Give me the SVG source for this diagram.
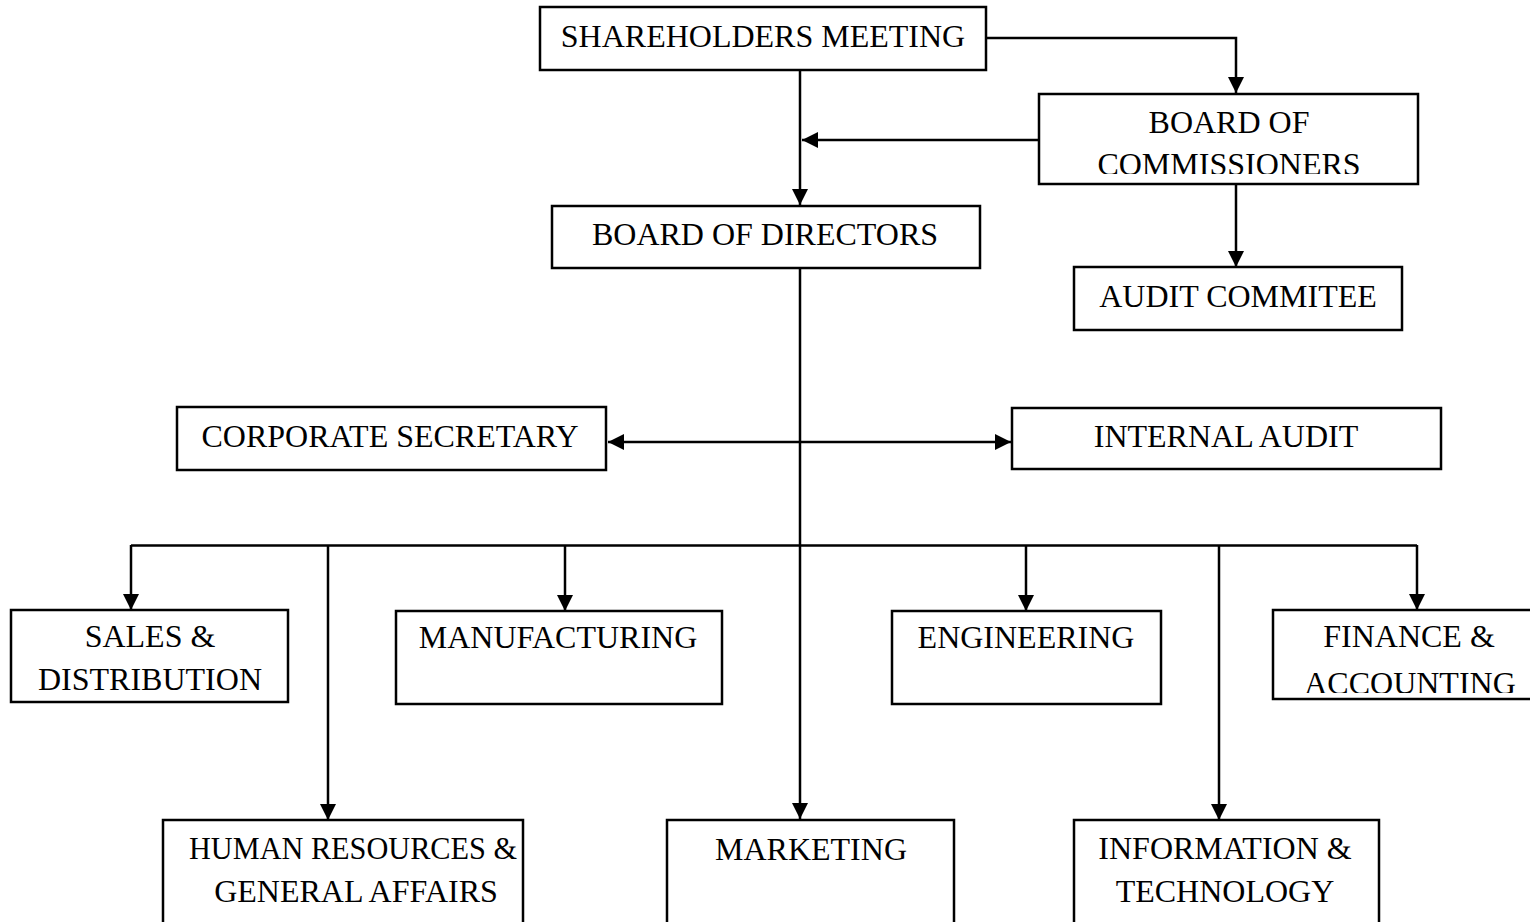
<svg xmlns="http://www.w3.org/2000/svg" width="1530" height="922" viewBox="0 0 1530 922">
<style>
.box{fill:#fff;stroke:#000;stroke-width:2.5}
.t{font-family:"Liberation Serif","Times New Roman",serif;font-size:32px;fill:#000;text-anchor:middle}
.c{fill:none;stroke:#000;stroke-width:2.5}
</style>
<defs>
<marker id="ah" viewBox="0 0 16 16" refX="16" refY="8" markerWidth="16" markerHeight="16" markerUnits="userSpaceOnUse" orient="auto-start-reverse">
<path d="M0,0 L16,8 L0,16 z" fill="#000"/>
</marker>
<clipPath id="clipBoC"><rect x="1039" y="94" width="379" height="80"/></clipPath>
<clipPath id="clipFin"><rect x="1273" y="610" width="257" height="83"/></clipPath>
</defs>
<rect width="1530" height="922" fill="#fff"/>

<g id="connectors">
<path class="c" d="M986,38 H1236 V93" marker-end="url(#ah)"/>
<path class="c" d="M800,70 V205" marker-end="url(#ah)"/>
<path class="c" d="M1039,140 H802" marker-end="url(#ah)"/>
<path class="c" d="M1236,184 V267" marker-end="url(#ah)"/>
<path class="c" d="M800,268 V819" marker-end="url(#ah)"/>
<path class="c" d="M608,442 H1011" marker-start="url(#ah)" marker-end="url(#ah)"/>
<path class="c" d="M131,545.5 H1417"/>
<path class="c" d="M131,545 V610" marker-end="url(#ah)"/>
<path class="c" d="M328,545 V820" marker-end="url(#ah)"/>
<path class="c" d="M565,545 V611" marker-end="url(#ah)"/>
<path class="c" d="M1026,545 V611" marker-end="url(#ah)"/>
<path class="c" d="M1219,545 V820" marker-end="url(#ah)"/>
<path class="c" d="M1417,545 V610" marker-end="url(#ah)"/>
</g>

<g id="shareholders">
<rect class="box" x="540" y="7" width="446" height="63"/>
<text class="t" x="763" y="47">SHAREHOLDERS MEETING</text>
</g>
<g id="commissioners">
<rect class="box" x="1039" y="94" width="379" height="90"/>
<g clip-path="url(#clipBoC)">
<text class="t" x="1229" y="133">BOARD OF</text>
<text class="t" x="1229" y="175">COMMISSIONERS</text>
</g>
</g>
<g id="directors">
<rect class="box" x="552" y="206" width="428" height="62"/>
<text class="t" x="765" y="245">BOARD OF DIRECTORS</text>
</g>
<g id="audit-committee">
<rect class="box" x="1074" y="267" width="328" height="63"/>
<text class="t" x="1238" y="307">AUDIT COMMITEE</text>
</g>
<g id="corporate-secretary">
<rect class="box" x="177" y="407" width="429" height="63"/>
<text class="t" x="390" y="447">CORPORATE SECRETARY</text>
</g>
<g id="internal-audit">
<rect class="box" x="1012" y="408" width="429" height="61"/>
<text class="t" x="1226" y="447">INTERNAL AUDIT</text>
</g>
<g id="sales">
<rect class="box" x="11" y="610" width="277" height="92"/>
<text class="t" x="150" y="647">SALES &amp;</text>
<text class="t" x="150" y="690">DISTRIBUTION</text>
</g>
<g id="manufacturing">
<rect class="box" x="396" y="611" width="326" height="93"/>
<text class="t" x="558" y="648">MANUFACTURING</text>
</g>
<g id="engineering">
<rect class="box" x="892" y="611" width="269" height="93"/>
<text class="t" x="1026" y="648">ENGINEERING</text>
</g>
<g id="finance">
<rect class="box" x="1273" y="610" width="262" height="89"/>
<g clip-path="url(#clipFin)">
<text class="t" x="1409" y="647">FINANCE &amp;</text>
<text class="t" x="1410" y="694">ACCOUNTING</text>
</g>
</g>
<g id="hr">
<rect class="box" x="163" y="820" width="360" height="110"/>
<text class="t" x="353" y="859" textLength="328" lengthAdjust="spacingAndGlyphs">HUMAN RESOURCES &amp;</text>
<text class="t" x="356" y="902">GENERAL AFFAIRS</text>
</g>
<g id="marketing">
<rect class="box" x="667" y="820" width="287" height="110"/>
<text class="t" x="811" y="860">MARKETING</text>
</g>
<g id="it">
<rect class="box" x="1074" y="820" width="305" height="110"/>
<text class="t" x="1225" y="859">INFORMATION &amp;</text>
<text class="t" x="1225" y="902">TECHNOLOGY</text>
</g>
</svg>
